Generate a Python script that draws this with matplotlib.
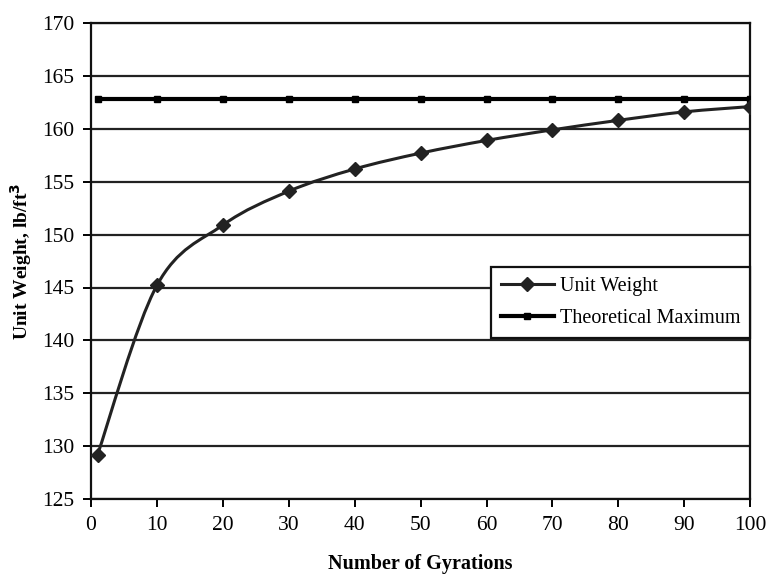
import numpy as np
import matplotlib.pyplot as plt
from matplotlib.path import Path
from matplotlib.patches import PathPatch
from matplotlib.lines import Line2D

plt.rcParams['font.family'] = ['Liberation Serif', 'DejaVu Serif']

# leituras do compactador giratorio
gyrations = [1, 10, 20, 30, 40, 50, 60, 70, 80, 90, 100]
unit_weight = [129.2, 145.2, 150.9, 154.1, 156.2, 157.7, 158.9, 159.9, 160.8, 161.6, 162.1]
theo_max = 162.8

fig = plt.figure(figsize=(7.71, 5.75), dpi=100)
ax = fig.add_axes([0.118, 0.132, 0.855, 0.828])


def smooth_path(x, y):
    # curva suavizada (bezier) passando pelos pontos, estilo planilha
    x = np.asarray(x, float)
    y = np.asarray(y, float)
    verts = [(x[0], y[0])]
    codes = [Path.MOVETO]
    n = len(x)
    for i in range(n - 1):
        i0 = max(i - 1, 0)
        i3 = min(i + 2, n - 1)
        c1 = (x[i] + (x[i + 1] - x[i0]) / 6, y[i] + (y[i + 1] - y[i0]) / 6)
        c2 = (x[i + 1] - (x[i3] - x[i]) / 6, y[i + 1] - (y[i3] - y[i]) / 6)
        verts += [c1, c2, (x[i + 1], y[i + 1])]
        codes += [Path.CURVE4] * 3
    return Path(verts, codes)


ax.add_patch(PathPatch(smooth_path(gyrations, unit_weight), facecolor='none',
                       edgecolor='#222222', lw=2.2, zorder=3))
ax.plot(gyrations, unit_weight, ls='none', marker='D', ms=7, color='#222222', zorder=4)

ax.plot(gyrations, [theo_max] * len(gyrations), color='black', lw=3,
        marker='s', ms=4, zorder=3)

ax.set_xlim(0, 100)
ax.set_ylim(125, 170)
ax.set_xticks(np.arange(0, 101, 10))
ax.set_yticks(np.arange(125, 171, 5))
ax.yaxis.grid(True, color='#222222', lw=1.6)
ax.set_axisbelow(True)
for s in ax.spines.values():
    s.set_linewidth(1.6)
    s.set_color('#111111')
ax.tick_params(axis='both', labelsize=15.5, width=1.4, length=6, direction='out', pad=6)

ax.set_xlabel('Number of Gyrations', fontsize=14.5, fontweight='bold', labelpad=14)
ax.set_ylabel('Unit Weight, lb/ft$^\\mathbf{3}$', fontsize=14, fontweight='bold', labelpad=6)

handles = [Line2D([], [], color='#222222', lw=2.2, marker='D', ms=7),
           Line2D([], [], color='black', lw=3, marker='s', ms=4)]
leg = ax.legend(handles, ['Unit Weight', 'Theoretical Maximum'], loc='upper right',
                bbox_to_anchor=(1.0, 0.487), borderaxespad=0, fontsize=14.5,
                fancybox=False, framealpha=1, edgecolor='#111111',
                handlelength=2.6, handletextpad=0.3, borderpad=0.5, labelspacing=0.62)
leg.get_frame().set_linewidth(1.6)

fig.savefig('out.png', dpi=100)
